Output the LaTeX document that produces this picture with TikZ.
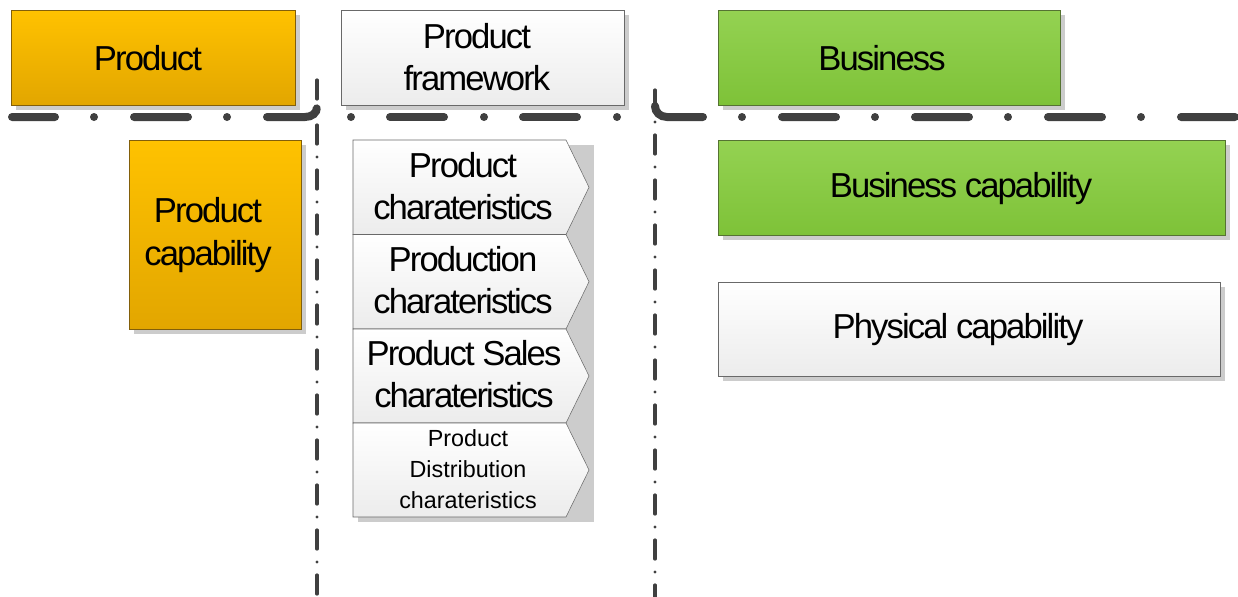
\documentclass[tikz,border=0pt]{standalone}
\usepackage{fontspec}
\setmainfont{Liberation Sans}
\newfontfamily\tightfont{Liberation Sans}[LetterSpace=-5.5]
\usetikzlibrary{shadows}

\definecolor{orangetop}{RGB}{255,194,0}
\definecolor{orangebot}{RGB}{226,166,0}
\definecolor{orangeline}{RGB}{130,95,10}
\definecolor{greentop}{RGB}{148,210,82}
\definecolor{greenbot}{RGB}{126,194,56}
\definecolor{greenline}{RGB}{85,115,50}
\definecolor{plainbot}{RGB}{236,236,236}
\definecolor{plainline}{RGB}{105,105,105}
\definecolor{shadowgray}{RGB}{204,204,204}
\definecolor{sepgray}{RGB}{64,64,64}

\newcommand{\bigtext}{\tightfont\fontsize{26}{32}\selectfont}
\newcommand{\smalltext}{\fontsize{17.5}{23.25}\selectfont}

\tikzset{
  shadowed/.style={drop shadow={shadow xshift=3.75pt, shadow yshift=-3.75pt, fill=shadowgray, opacity=1}},
  prodbox/.style={shadowed, draw=orangeline, top color=orangetop, bottom color=orangebot, inner sep=0pt},
  busbox/.style={shadowed, draw=greenline, top color=greentop, bottom color=greenbot, inner sep=0pt},
  plainbox/.style={shadowed, draw=plainline, top color=white, bottom color=plainbot, inner sep=0pt},
  chevron/.style={draw=plainline, top color=white, bottom color=plainbot},
  boxtext/.style={font=\bigtext, align=center},
  septhick/.style={color=sepgray, line width=6pt, line cap=round, dash pattern=on 40.5pt off 29.25pt on 0pt off 30pt},
  septhin/.style={color=sepgray, line width=2.4pt, line cap=round, dash pattern=on 14.25pt off 9.75pt on 0pt off 9.75pt}
}

\begin{document}
\begin{tikzpicture}[x=0.75pt,y=0.75pt,yscale=-1]
\useasboundingbox (0,0) rectangle (1238,596);

%Straight Lines
\draw [septhin] (317,80) -- (317,600) ;
%Straight Lines
\draw [septhin] (655,90) -- (655,600) ;

%Straight Lines
\draw [septhick, dash phase=8.25pt] (12,117) -- (305,117) .. controls (312,117) and (317,113) .. (317,107) ;
%Straight Lines
\draw [septhick, dash pattern=on 0pt off 29.25pt on 40.5pt off 30pt] (351,117) -- (617.5,117) ;
%Straight Lines
\draw [septhick] (655,106) .. controls (655,112) and (660,117) .. (667,117) -- (1250,117) ;

%Shape: Rectangle
\node [prodbox, minimum width=213pt, minimum height=71.25pt] (product) at (153,57.5) {};
%Shape: Rectangle
\node [prodbox, minimum width=129pt, minimum height=141.75pt] (prodcap) at (215,234.5) {};
%Shape: Rectangle
\node [plainbox, minimum width=212.25pt, minimum height=71.25pt] (framework) at (482.5,57.5) {};

%Shape: Rectangle (shadow of the chevrons)
\fill [shadowgray] (358,145) rectangle (594,522) ;
%Shape: Chevrons
\foreach \a/\b in {140/234.5, 234.5/329, 329/423, 423/517}
  \draw [chevron] (353,\a) -- (566,\a) -- (589,{(\a+\b)/2}) -- (566,\b) -- (353,\b) -- cycle ;

%Shape: Rectangle
\node [busbox, minimum width=256.5pt, minimum height=71.25pt] (business) at (889,57.5) {};
%Shape: Rectangle
\node [busbox, minimum width=380.25pt, minimum height=71.25pt] (buscap) at (971.5,187.5) {};
%Shape: Rectangle
\node [plainbox, minimum width=376.5pt, minimum height=70.5pt] (physcap) at (969,329) {};

% Text Node
\node [boxtext] (producttext) at (148,58) {Product};
% Text Node
\node [boxtext] (prodcaptext) at (208,235) {Product\\capability};
% Text Node
\node [boxtext] (frameworktext) at (477,57) {Product\\framework};
% Text Node
\node [boxtext] (prodchar) at (463,186) {Product\\charateristics};
% Text Node
\node [boxtext] (productionchar) at (463,280) {Production\\charateristics};
% Text Node
\node [boxtext] (saleschar) at (464,374) {Product Sales\\charateristics};
% Text Node
\node [font=\smalltext, align=center] (distchar) at (468,469) {Product\\Distribution\\charateristics};
% Text Node
\node [boxtext] (businesstext) at (882,58) {Business};
% Text Node
\node [boxtext] (buscaptext) at (961,188.5) {Business capability};
% Text Node
\node [boxtext] (physcaptext) at (958,330) {Physical capability};

\end{tikzpicture}
\end{document}
